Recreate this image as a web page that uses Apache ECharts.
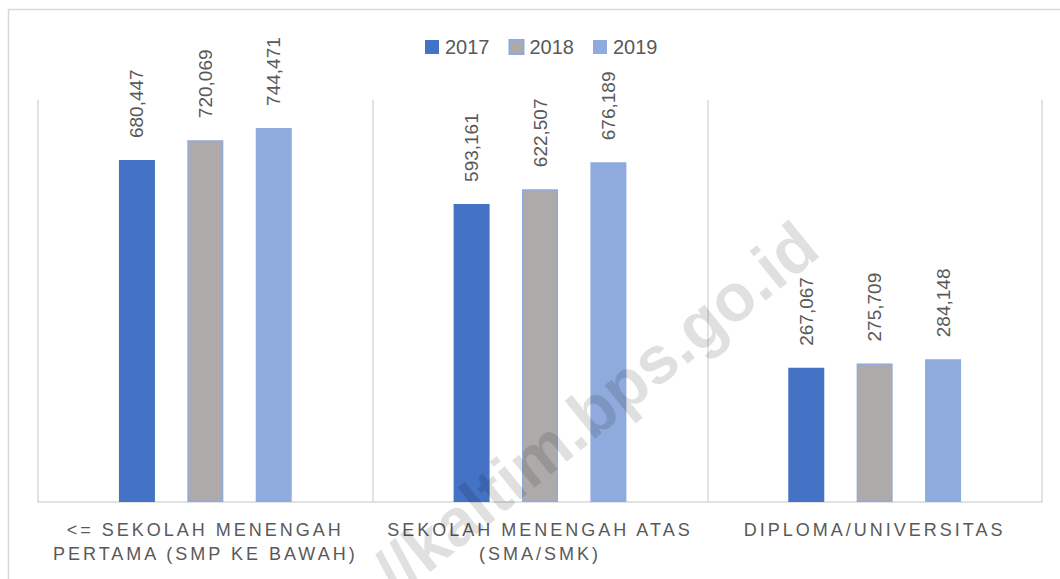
<!DOCTYPE html>
<html>
<head>
<meta charset="utf-8">
<script src="https://cdn.jsdelivr.net/npm/echarts@6/dist/echarts.min.js"></script>
<style>
  html, body { margin: 0; padding: 0; background: #fff; }
  #main { width: 1060px; height: 579px; }
</style>
</head>
<body>
<div id="main"></div>
<script>
var categories = ['<= SEKOLAH MENENGAH\nPERTAMA (SMP KE BAWAH)', 'SEKOLAH MENENGAH ATAS\n(SMA/SMK)', 'DIPLOMA/UNIVERSITAS'];
var years = ['2017', '2018', '2019'];
var v2017 = [680447, 593161, 267067];
var v2018 = [720069, 622507, 275709];
var v2019 = [744471, 676189, 284148];

var textColor = '#595959';
var fontName = '"Liberation Sans", Arial, sans-serif';

var myChart = echarts.init(document.getElementById('main'), null, { renderer: 'svg' });

function barLabel() {
    return {
        show: true,
        position: 'top',
        distance: 22,
        rotate: 90,
        align: 'left',
        verticalAlign: 'middle',
        color: textColor,
        fontSize: 19,
        fontFamily: fontName,
        formatter: function (p) { return p.value.toLocaleString('en-US'); }
    };
}

var option = {
    animation: false,
    backgroundColor: '#fff',
    legend: {
        data: years,
        left: 420,
        top: 32,
        icon: 'rect',
        itemWidth: 14,
        itemHeight: 14,
        itemGap: 19,
        textStyle: { color: textColor, fontSize: 20, fontFamily: fontName, padding: [0, 0, 0, 1] }
    },
    grid: { left: 38, right: 18, top: 100, bottom: 77 },
    xAxis: {
        type: 'category',
        data: categories,
        axisLine: { lineStyle: { color: '#d9d9d9', width: 1.5 } },
        axisTick: { show: false },
        splitLine: { show: true, lineStyle: { color: '#d9d9d9', width: 1.5 } },
        axisLabel: {
            color: textColor,
            fontSize: 18,
            fontFamily: fontName,
            lineHeight: 24,
            margin: 16,
            interval: 0
        }
    },
    yAxis: {
        type: 'value',
        min: 0,
        max: 800000,
        show: false,
        splitLine: { show: false }
    },
    series: [{
        name: '2017',
        type: 'bar',
        barWidth: 36,
        barGap: '90%',
        itemStyle: { color: '#4472c4' },
        label: barLabel(),
        data: v2017
    }, {
        name: '2018',
        type: 'bar',
        barWidth: 36,
        barGap: '90%',
        itemStyle: { color: '#aeaaaa', borderColor: '#8faadc', borderWidth: 1.5 },
        label: barLabel(),
        data: v2018
    }, {
        name: '2019',
        type: 'bar',
        barWidth: 36,
        barGap: '90%',
        itemStyle: { color: '#8faadc' },
        label: barLabel(),
        data: v2019
    }],
    graphic: [{
        type: 'rect',
        z: -10,
        silent: true,
        shape: { x: 8.5, y: 9.5, width: 1100, height: 700 },
        style: { fill: 'none', stroke: '#d9d9d9', lineWidth: 1.5 }
    }, {
        type: 'text',
        z: 100,
        silent: true,
        x: 808,
        y: 236,
        rotation: 39 * Math.PI / 180,
        style: {
            text: '//kaltim.bps.go.id',
            font: 'bold 67px ' + fontName,
            fill: 'rgba(0,0,0,0.12)',
            align: 'right',
            verticalAlign: 'middle',
            textAlign: 'right',
            textVerticalAlign: 'middle'
        }
    }]
};
myChart.setOption(option);

// Excel-style letter spacing on the category labels
var spaced = {};
categories.forEach(function (c) {
    c.split('\n').forEach(function (line) { spaced[line] = true; });
});
function spaceLabels() {
    var texts = document.querySelectorAll('#main svg text');
    for (var i = 0; i < texts.length; i++) {
        if (spaced[texts[i].textContent]) {
            texts[i].style.letterSpacing = '3px';
        }
    }
}
spaceLabels();
myChart.on('finished', spaceLabels);
</script>
</body>
</html>
